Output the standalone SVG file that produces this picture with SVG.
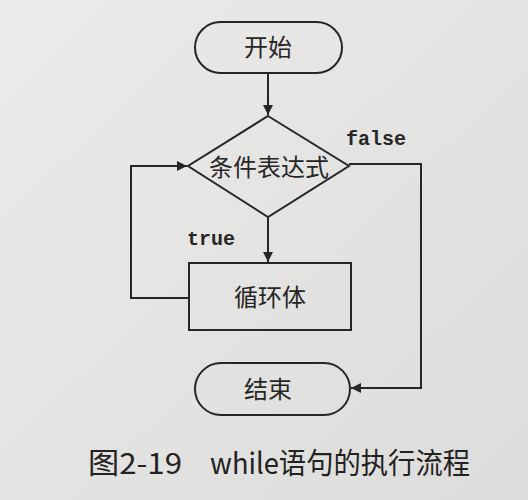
<svg xmlns="http://www.w3.org/2000/svg" width="528" height="500" viewBox="0 0 528 500">
<defs>
<marker id="arr" viewBox="0 0 10 10" refX="10" refY="5" markerWidth="10" markerHeight="10" markerUnits="userSpaceOnUse" orient="auto">
<path d="M0,0 L10,5 L0,10 z" fill="#262626"/>
</marker>
<linearGradient id="bg" x1="0" y1="0" x2="1" y2="1">
<stop offset="0" stop-color="#ecebe9"/>
<stop offset="1" stop-color="#dcdcda"/>
</linearGradient>
</defs>
<style>
.shape{fill:none;stroke:#262626;stroke-width:2}
.line{fill:none;stroke:#262626;stroke-width:2}
.cn{font-family:"Noto Sans CJK SC","Noto Sans",sans-serif;font-size:24px;fill:#262626;text-anchor:middle}
.code{font-family:"Liberation Mono","DejaVu Sans Mono",monospace;font-weight:bold;font-size:20px;fill:#262626}
.cap{font-family:"Noto Sans CJK SC","Noto Sans",sans-serif;font-size:29px;fill:#222}
</style>
<rect width="528" height="500" fill="url(#bg)"/>
<g id="start">
<rect class="shape" x="195" y="22" width="147" height="51" rx="25.5"/>
<text class="cn" x="268" y="56">开始</text>
</g>
<g id="condition">
<polygon class="shape" points="268,116 349,166 268,217 188,166"/>
<text class="cn" x="269" y="176">条件表达式</text>
</g>
<g id="body">
<rect class="shape" x="189" y="263" width="162" height="67"/>
<text class="cn" x="270" y="306">循环体</text>
</g>
<g id="end">
<rect class="shape" x="195" y="363" width="155" height="52" rx="26"/>
<text class="cn" x="268" y="398">结束</text>
</g>
<g id="connectors">
<line class="line" x1="268" y1="73" x2="268" y2="115" marker-end="url(#arr)"/>
<line class="line" x1="268" y1="217" x2="268" y2="262" marker-end="url(#arr)"/>
<polyline class="line" points="189,298 131,298 131,166 187,166" marker-end="url(#arr)"/>
<polyline class="line" points="349,164 421,164 421,388 351,388" marker-end="url(#arr)"/>
<text class="code" x="346" y="145">false</text>
<text class="code" x="187" y="245">true</text>
</g>
<g id="caption">
<text class="cap" x="88" y="474" textLength="94" lengthAdjust="spacingAndGlyphs">图2-19</text>
<text class="cap" x="210" y="474" textLength="260" lengthAdjust="spacingAndGlyphs">while语句的执行流程</text>
</g>
</svg>
